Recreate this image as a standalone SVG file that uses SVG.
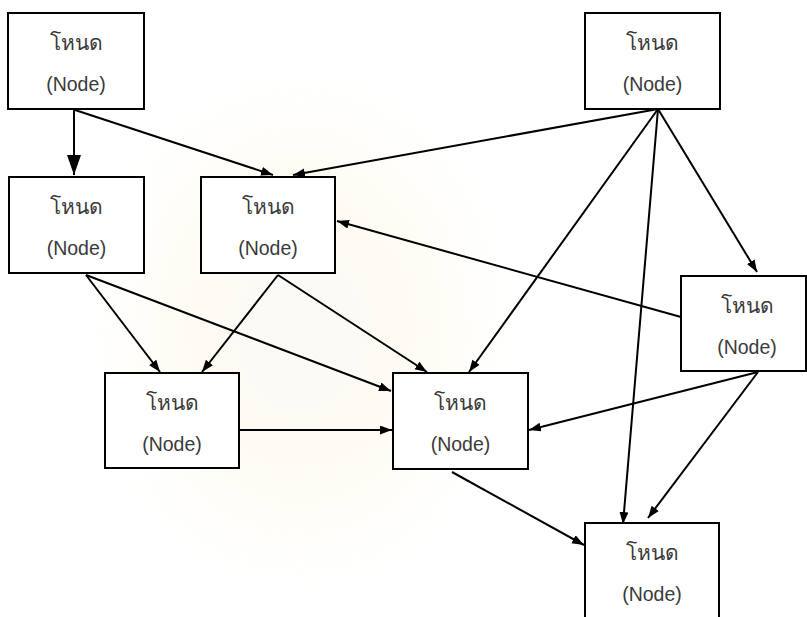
<svg xmlns="http://www.w3.org/2000/svg" width="807" height="617" viewBox="0 0 807 617">
  <defs>
    <marker id="arrow" markerUnits="userSpaceOnUse" markerWidth="13" markerHeight="10" refX="12" refY="4.5" orient="auto">
      <path d="M0,0 L12,4.5 L0,9 z" fill="#000"/>
    </marker>
    <marker id="arrow-lg" markerUnits="userSpaceOnUse" markerWidth="22" markerHeight="16" refX="20" refY="7" orient="auto">
      <path d="M0,0 L20,7 L0,14 z" fill="#000"/>
    </marker>
    <radialGradient id="glow" cx="0.5" cy="0.45" r="0.5">
      <stop offset="0" stop-color="#f3f1ea" stop-opacity="0.9"/>
      <stop offset="0.55" stop-color="#fbf4d8" stop-opacity="0.6"/>
      <stop offset="1" stop-color="#ffffff" stop-opacity="0"/>
    </radialGradient>
    <filter id="soft" x="-20%" y="-20%" width="140%" height="140%">
      <feGaussianBlur stdDeviation="6"/>
    </filter>
  </defs>
  <style>
    .box { fill: #fff; stroke: #000; stroke-width: 2; }
    .wire { stroke: #000; stroke-width: 2; fill: none; marker-end: url(#arrow); }
    .label { font-family: "Liberation Sans", "Noto Sans", "DejaVu Sans", sans-serif; font-size: 19.5px; fill: #3a3a3a; text-anchor: middle; }
    .th { font-size: 21px; }
  </style>
  <rect width="807" height="617" fill="#fff"/>

  <!-- faint background emblem -->
  <g id="backdrop" filter="url(#soft)" opacity="0.5">
    <ellipse cx="300" cy="360" rx="240" ry="290" fill="url(#glow)"/>
  </g>

  <g id="connectors">
    <line x1="74" y1="110" x2="74" y2="175" stroke="#000" stroke-width="2" marker-end="url(#arrow-lg)"/>
    <line class="wire" x1="75" y1="110" x2="273" y2="175"/>
    <line class="wire" x1="658" y1="109" x2="293" y2="175"/>
    <line class="wire" x1="658" y1="109" x2="757" y2="272"/>
    <line class="wire" x1="658" y1="109" x2="469" y2="372"/>
    <line class="wire" x1="658" y1="109" x2="623" y2="524"/>
    <line class="wire" x1="681" y1="317" x2="337" y2="221"/>
    <line class="wire" x1="86" y1="275" x2="160" y2="372"/>
    <line class="wire" x1="86" y1="275" x2="391" y2="391"/>
    <line class="wire" x1="278" y1="275" x2="202" y2="372"/>
    <line class="wire" x1="278" y1="275" x2="427" y2="372"/>
    <line class="wire" x1="239" y1="430" x2="392" y2="430"/>
    <line class="wire" x1="758" y1="372" x2="529" y2="430"/>
    <line class="wire" x1="758" y1="372" x2="648" y2="518"/>
    <line class="wire" x1="452" y1="472" x2="584" y2="545"/>
  </g>

  <g id="node-a">
    <rect class="box" x="8" y="13" width="136" height="96"/>
    <text class="label th" x="76" y="50">โหนด</text>
    <text class="label" x="76" y="91">(Node)</text>
  </g>
  <g id="node-b">
    <rect class="box" x="9" y="177" width="135" height="96"/>
    <text class="label th" x="76.5" y="214">โหนด</text>
    <text class="label" x="76.5" y="255">(Node)</text>
  </g>
  <g id="node-c">
    <rect class="box" x="201" y="177" width="134" height="96"/>
    <text class="label th" x="268" y="214">โหนด</text>
    <text class="label" x="268" y="255">(Node)</text>
  </g>
  <g id="node-d">
    <rect class="box" x="105" y="373" width="134" height="95"/>
    <text class="label th" x="172" y="410">โหนด</text>
    <text class="label" x="172" y="451">(Node)</text>
  </g>
  <g id="node-e">
    <rect class="box" x="393" y="373" width="135" height="96"/>
    <text class="label th" x="460.5" y="410">โหนด</text>
    <text class="label" x="460.5" y="451">(Node)</text>
  </g>
  <g id="node-f">
    <rect class="box" x="585" y="13" width="135" height="96"/>
    <text class="label th" x="652.5" y="50">โหนด</text>
    <text class="label" x="652.5" y="91">(Node)</text>
  </g>
  <g id="node-g">
    <rect class="box" x="681" y="276" width="125" height="95"/>
    <text class="label th" x="747" y="313">โหนด</text>
    <text class="label" x="747" y="354">(Node)</text>
  </g>
  <g id="node-h">
    <rect class="box" x="585" y="523" width="134" height="100"/>
    <text class="label th" x="652" y="560">โหนด</text>
    <text class="label" x="652" y="601">(Node)</text>
  </g>
</svg>
